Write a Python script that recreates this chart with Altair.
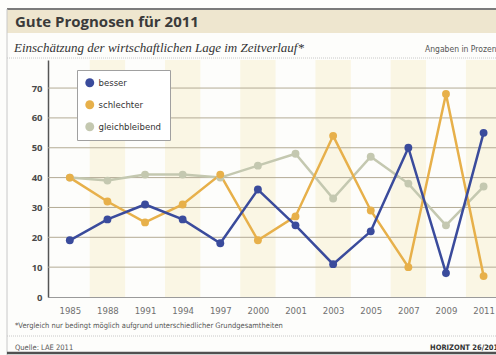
import altair as alt
import pandas as pd

years = ["1985", "1988", "1991", "1994", "1997", "2000", "2001", "2003", "2005", "2007", "2009", "2011"]
besser = [19, 26, 31, 26, 18, 36, 24, 11, 22, 50, 8, 55]
schlechter = [40, 32, 25, 31, 41, 19, 27, 54, 29, 10, 68, 7]
gleichbleibend = [40, 39, 41, 41, 40, 44, 48, 33, 47, 38, 24, 37]
series_names = ["besser", "schlechter", "gleichbleibend"]
series_colors = ["#3a4b9c", "#e7b04a", "#c4c8b0"]
y_ticks = [0, 10, 20, 30, 40, 50, 60, 70]
grid_values = [10, 20, 30, 40, 50, 60, 70]

color_of = dict(zip(series_names, series_colors))
rows = []
for name, vals in [("gleichbleibend", gleichbleibend), ("schlechter", schlechter), ("besser", besser)]:
    for i, (yr, v) in enumerate(zip(years, vals)):
        rows.append({"idx": i, "Jahr": yr, "Serie": name, "Farbe": color_of[name], "Wert": v})
df = pd.DataFrame(rows)

stripe_idx = [i for i in range(len(years)) if i % 2 == 1]
stripes = pd.DataFrame({"a": [i - 0.47 for i in stripe_idx], "b": [i + 0.47 for i in stripe_idx]})
grid_df = pd.DataFrame({"v": grid_values})

W, H = 448, 237
xscale = alt.Scale(domain=[-0.58, 11.33], nice=False, zero=False)
yscale = alt.Scale(domain=[0, 79.4], nice=False)
label_expr = "[" + ",".join('"%s"' % y for y in years) + "][datum.value]"
COND = "Liberation Sans Narrow, DejaVu Sans Condensed, Roboto, sans-serif"

X_AX = alt.Axis(values=list(range(len(years))), labelExpr=label_expr, ticks=False,
                grid=False, domainColor="#9a9a9a", domainWidth=1,
                labelColor="#707070", labelFontSize=9.5, labelFont=COND, labelPadding=8)
Y_AX = alt.Axis(values=y_ticks, ticks=False, grid=False, domainColor="#555", domainWidth=1.5,
                labelColor="#4a4a4a", labelFontSize=9.5, labelFontWeight="bold",
                labelFont="Open Sans", labelPadding=6)

one = alt.InlineData(values=[{"k": 1}])

def deco_rect(x, x2, y, y2, color):
    return alt.Chart(one).mark_rect(color=color).encode(
        x=alt.value(x), x2=alt.value(x2), y=alt.value(y), y2=alt.value(y2))

def deco_rule(x, x2, y, y2, color, width=1, dash=None):
    kw = dict(color=color, strokeWidth=width)
    if dash:
        kw["strokeDash"] = dash
    return alt.Chart(one).mark_rule(**kw).encode(
        x=alt.value(x), x2=alt.value(x2), y=alt.value(y), y2=alt.value(y2))

def txt(s, x, y, size, color="#333", weight="normal", style="normal", font="Open Sans", align="left"):
    return alt.Chart(one).mark_text(
        align=align, baseline="alphabetic", fontSize=size, color=color,
        fontWeight=weight, fontStyle=style, font=font).encode(
        x=alt.value(x), y=alt.value(y), text=alt.value(s))

stripe_layer = alt.Chart(stripes).mark_rect(color="#faf6e4").encode(
    x=alt.X("a:Q", scale=xscale, axis=X_AX, title=None),
    x2="b:Q",
    y=alt.value(0), y2=alt.value(H))

grid_layer = alt.Chart(grid_df).mark_rule(color="#b3ab95", strokeWidth=1).encode(
    y=alt.Y("v:Q", scale=yscale, axis=Y_AX, title=None),
    x=alt.value(0), x2=alt.value(W))

base = alt.Chart(df).encode(
    x=alt.X("idx:Q", scale=xscale, title=None, axis=X_AX),
    y=alt.Y("Wert:Q", scale=yscale, title=None, axis=Y_AX),
)

lines = base.mark_line(strokeWidth=2.5).encode(
    stroke=alt.Stroke("Farbe:N", scale=None),
    detail="Serie:N")

points = base.mark_circle(size=62, opacity=1).encode(
    color=alt.Color("Serie:N", scale=alt.Scale(domain=series_names, range=series_colors), title=None,
                    legend=alt.Legend(orient="none", legendX=29, legendY=10, strokeColor="#a0a0a0",
                                      fillColor="white", padding=8, symbolType="circle",
                                      symbolSize=80, symbolStrokeWidth=0, symbolOpacity=1,
                                      rowPadding=11, labelFontSize=9.5, labelColor="#333",
                                      labelFont=COND, labelOffset=4)))

L = -41
R = W

chart = alt.layer(
    deco_rect(L, R, -51, -27, "#eee6cf"),
    deco_rule(L, R, -51, -51, "#7a7a7a", 2),
    deco_rule(L, L, -51, 295, "#c8c8c8", 1),
    deco_rule(L, R, 293, 293, "#505050", 2.5),
    deco_rule(L, R, -2, -2, "#c8c8c8", 1, [1, 1]),
    deco_rule(L, R, 276, 276, "#c8c8c8", 1, [1, 1]),
    stripe_layer,
    grid_layer,
    lines,
    points,
    txt("Gute Prognosen für 2011", -33, -33, 15, "#3a3a3a", "bold"),
    txt("Einschätzung der wirtschaftlichen Lage im Zeitverlauf*", -34, -8, 13, "#333", "normal", "italic", "Liberation Serif"),
    txt("Angaben in Prozent", 377, -8, 8.5, "#555", font=COND),
    txt("*Vergleich nur bedingt möglich aufgrund unterschiedlicher Grundgesamtheiten", -33, 268, 7.5, "#555", font=COND),
    txt("Quelle:  LAE 2011", -33, 290, 7.5, "#555", font=COND),
    txt("HORIZONT 26/2011", 382, 290, 7.5, "#333", "bold", font=COND),
).properties(
    width=W, height=H,
    padding={"left": 48, "top": 60, "right": 0, "bottom": 58},
    autosize=alt.AutoSizeParams(type="none"),
    background="#fdfdfb",
).configure_view(stroke=None)

chart.save("out.html", embed_options={"renderer": "svg", "actions": False})
